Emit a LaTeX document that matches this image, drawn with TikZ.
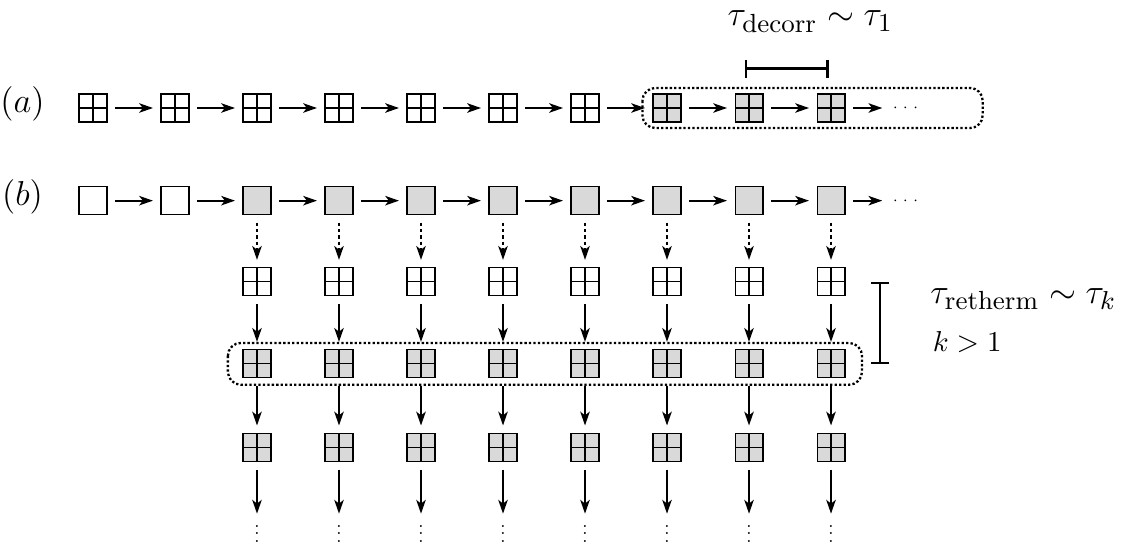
\documentclass[tikz,border=0pt]{standalone}
\usepackage{amsmath}
\usepackage{tikz}
\usetikzlibrary{arrows.meta,positioning,calc}

\begin{document}
\begin{tikzpicture}[>={Stealth[length=4.8pt,width=3.3pt,inset=1.3pt]},node distance=1cm,semithick,
    every edge/.append style={->,shorten >=2.6pt,shorten <=2.6pt},
    cfg/.style={draw,thin,minimum size=0.34cm,inner sep=0pt},
    lat/.style={cfg,path picture={\draw[thin] (path picture bounding box.north) -- (path picture bounding box.south)
        (path picture bounding box.west) -- (path picture bounding box.east);}},
    eq/.style={fill=black!15},
    hdots/.style={inner sep=0.5pt,font=\fontsize{5}{6}\selectfont},
    vdots/.style={inner sep=0pt,scale=0.65,anchor=north},
    sweep/.style={dash pattern=on 1.2pt off 1pt},
    encl/.style={line width=0.8pt,dash pattern=on 0.8pt off 0.75pt,rounded corners=4.5pt},
    span/.style={thick,|-|},
    lbl/.style={inner sep=0pt,anchor=base west,font=\fontsize{13}{15}\selectfont}]
\useasboundingbox (-1.134,1.317) rectangle (12.634,-5.366);
% (a) one chain
 \node [lat]      (a0) at (0,0) {};
 \foreach \i [remember=\i as \j (initially 0)] in {1,...,6}
   \node [lat]    (a\i) [right of=a\j] {};
 \foreach \i [remember=\i as \j (initially 6)] in {7,8,9}
   \node [lat,eq] (a\i) [right of=a\j] {};
 \node [hdots]    (adots) [right of=a9,node distance=0.93cm] {$\cdots$};
 \node            (la) at (-0.86,0.05) {\large $(a)$};

% (b) many chains
 \node [cfg]      (b0) at (0,-1.13) {};
 \node [cfg]      (b1) [right of=b0] {};
 \foreach \i [remember=\i as \j (initially 1)] in {2,...,9}
   \node [cfg,eq] (b\i) [right of=b\j] {};
 \node [hdots]    (bdots) [right of=b9,node distance=0.93cm] {$\cdots$};
 \node            (lb) at (-0.86,-1.08) {\large $(b)$};

 \foreach \i in {2,...,9}{
   \node [lat]    (c\i) [below of=b\i,node distance=0.99cm] {};
   \node [lat,eq] (d\i) [below of=c\i] {};
   \node [lat,eq] (e\i) [below of=d\i,node distance=1.02cm] {};
   \node [vdots]  (f\i) [below=0.63cm of e\i] {$\vdots$};
 }

 \foreach \i [remember=\i as \j (initially 0)] in {1,...,9}
   \path (a\j) edge (a\i)
         (b\j) edge (b\i);
 \path (a9) edge (adots)
       (b9) edge (bdots);
 \foreach \i in {2,...,9}
   \path (b\i) edge [sweep] (c\i)
         (c\i) edge (d\i)
         (d\i) edge (e\i)
         (e\i) edge [shorten >=0pt] (f\i);

% boxes and time scales
 \draw [encl] ($(a7)+(-0.3,0.245)$) rectangle ($(a9)+(1.85,-0.245)$);
 \draw [encl] ($(d2)+(-0.355,0.255)$) rectangle ($(d9)+(0.378,-0.255)$);

 \draw [span] ($(a8)+(-0.05,0.48)$) -- ($(a9)+(-0.03,0.48)$);
 \node [lbl] (tdec) at (7.73,1.0) {$\tau_{\text{decorr}} \sim \tau_1$};

 \draw [span] ($(c9)+(0.6,0)$) -- ($(d9)+(0.6,0)$);
 \node [lbl] (tret) at (10.2,-2.38) {$\tau_{\text{retherm}} \sim \tau_k$};
 \node [lbl,font=\normalsize] (kk) at (10.23,-2.97) {$k>1$};
\end{tikzpicture}
\end{document}
